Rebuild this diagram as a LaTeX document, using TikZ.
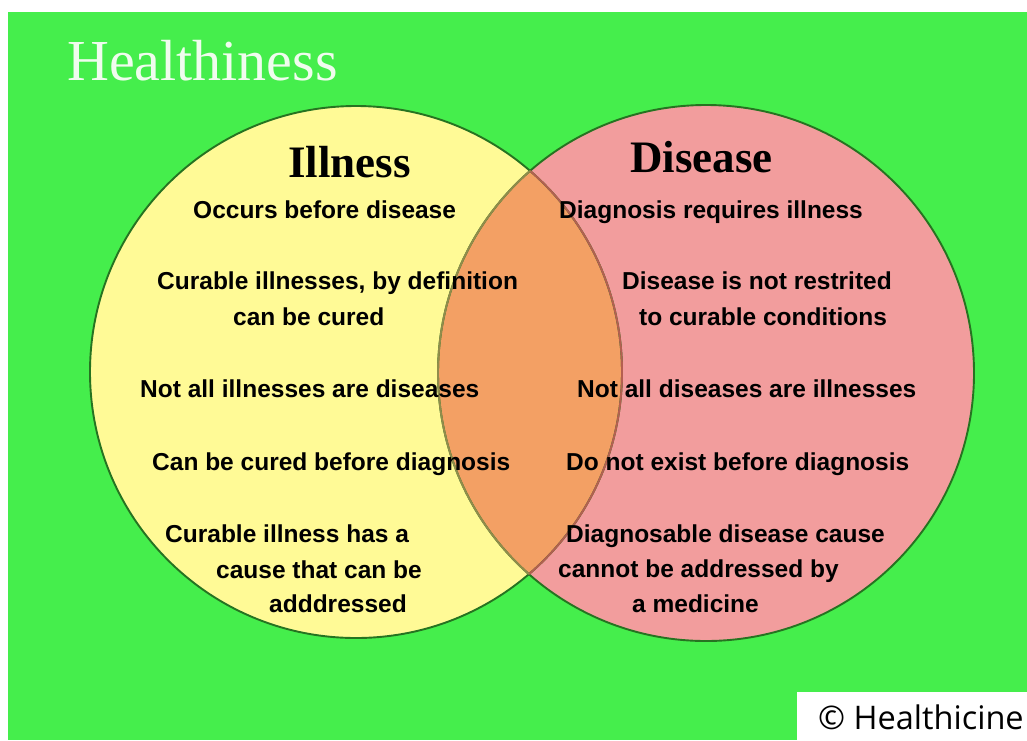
\documentclass[tikz,border=0pt]{standalone}
\usepackage{fontspec}
\setmainfont{Liberation Serif}
\newfontfamily\bodyfont{Liberation Sans}
\newfontfamily\markfont{Open Sans}

\definecolor{bggreen}{RGB}{69,238,76}
\definecolor{illfill}{RGB}{255,250,150}
\definecolor{disfill}{RGB}{242,157,157}
\definecolor{bothfill}{RGB}{243,160,100}
\definecolor{rimgreen}{RGB}{38,115,33}
\definecolor{rimbrown}{RGB}{180,95,80}
\definecolor{rimolive}{RGB}{145,140,75}
\definecolor{titlewhite}{RGB}{240,252,238}

\begin{document}
\begin{tikzpicture}[x=1pt,y=-1pt,
  lbl/.style={anchor=base west, inner sep=0pt,
    font=\bodyfont\bfseries\fontsize{24.5}{24.5}\selectfont},
  setname/.style={anchor=base west, inner sep=0pt,
    font=\bfseries\fontsize{45}{45}\selectfont},
  rim/.style={line width=1.9pt}]
\useasboundingbox (0,0) rectangle (1027,740);
\fill[white] (0,0) rectangle (1027,740);
\fill[bggreen] (8,12) rectangle (1027,740);

% set centres
\coordinate (L) at (356,372);
\coordinate (R) at (706,373);

% fills
\fill[illfill] (L) circle[radius=266pt];
\fill[disfill] (R) circle[radius=268pt];
\begin{scope}
  \clip (L) circle[radius=266pt];
  \fill[bothfill] (R) circle[radius=268pt];
\end{scope}

% outlines
\draw[rim, rimgreen] (L) circle[radius=266pt];
\draw[rim, rimgreen] (R) circle[radius=268pt];
\begin{scope}
  \clip (R) circle[radius=268pt];
  \draw[rim, rimbrown] (L) circle[radius=266pt];
\end{scope}
\begin{scope}
  \clip (L) circle[radius=266pt];
  \draw[rim, rimolive] (R) circle[radius=268pt];
\end{scope}

% title
\node[anchor=base west, inner sep=0pt, text=titlewhite,
      font=\fontsize{58}{58}\selectfont] (title) at (67,80) {Healthiness};

% set names
\node[setname] (ill) at (288,177) {Illness};
\node[setname] (dis) at (630,172) {Disease};

% illness statements
\node[lbl] (i1) at (193,218) {Occurs before disease};
\node[lbl] (i2) at (157,289) {Curable illnesses, by definition};
\node[lbl] (i3) at (233,325) {can be cured};
\node[lbl] (i4) at (140,397) {Not all illnesses are diseases};
\node[lbl] (i5) at (152,470) {Can be cured before diagnosis};
\node[lbl] (i6) at (165,542) {Curable illness has a};
\node[lbl] (i7) at (216,578) {cause that can be};
\node[lbl] (i8) at (269,612) {adddressed};

% disease statements
\node[lbl] (d1) at (559,218) {Diagnosis requires illness};
\node[lbl] (d2) at (622,289) {Disease is not restrited};
\node[lbl] (d3) at (639,325) {to curable conditions};
\node[lbl] (d4) at (577,397) {Not all diseases are illnesses};
\node[lbl] (d5) at (566,470) {Do not exist before diagnosis};
\node[lbl] (d6) at (566,542) {Diagnosable disease cause};
\node[lbl] (d7) at (558,577) {cannot be addressed by};
\node[lbl] (d8) at (632,612) {a medicine};

% credit box
\fill[white] (797,692) rectangle (1027,740);
\node[anchor=base west, inner sep=0pt,
      font=\markfont\fontsize{32.5}{32.5}\selectfont] (credit) at (818,729) {© Healthicine};
\end{tikzpicture}
\end{document}
